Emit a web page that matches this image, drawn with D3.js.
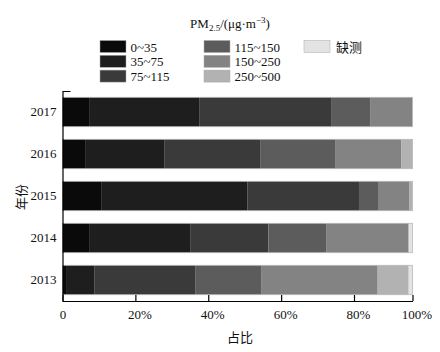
<!DOCTYPE html>
<html>
<head>
<meta charset="utf-8">
<script src="https://cdn.jsdelivr.net/npm/d3@7"></script>
<style>
  body { margin: 0; background: #fff; }
  text { font-family: "Liberation Serif", "Times New Roman", serif; fill: #111; }
  .cjk { font-family: "Noto Sans CJK SC", sans-serif; }
</style>
</head>
<body>
<div id="chart"></div>
<script>
// Years from top to bottom
var years = ["2017", "2016", "2015", "2014", "2013"];

// PM2.5 classes and their fills
var categories = ["0~35", "35~75", "75~115", "115~150", "150~250", "250~500", "缺测"];
var colors = ["#0a0a0a", "#1e1e1e", "#3a3a3a", "#5c5c5c", "#838383", "#b2b2b2", "#e3e3e3"];

// Share (%) of each class per year, same order as years
var s0_35 = [7.5, 6.4, 10.6, 7.5, 1.2];
var s35_75 = [30.0, 21.5, 40.1, 27.7, 7.5];
var s75_115 = [36.2, 26.5, 31.0, 21.3, 27.7];
var s115_150 = [11.8, 20.4, 6.5, 16.0, 18.1];
var s150_250 = [14.5, 21.3, 10.6, 26.2, 33.6];
var s250_500 = [0, 3.9, 1.2, 0, 10.6];
var sMissing = [0, 0, 0, 1.3, 1.3];

// Tick values of the x axis
var xTicks = [0, 20, 40, 60, 80, 100];

var width = 440, height = 352;
var series = [s0_35, s35_75, s75_115, s115_150, s150_250, s250_500, sMissing];

// rows for the stack layout
var rows = years.map(function (y, i) {
  var r = { year: y };
  categories.forEach(function (c, j) { r[c] = series[j][i]; });
  return r;
});

var svg = d3.select("#chart").append("svg")
  .attr("width", width)
  .attr("height", height);

// the printed axis is not evenly spaced after 80%, so follow it
var x = d3.scaleLinear().domain([0, 80, 100]).range([62.5, 354, 412.5]);
var y = d3.scaleBand().domain(years).range([91, 301])
  .paddingInner(0.3).paddingOuter(0.15);

var color = d3.scaleOrdinal().domain(categories).range(colors);

var stacked = d3.stack().keys(categories)(rows);

// bars
svg.append("g").selectAll("g")
  .data(stacked)
  .join("g")
  .attr("fill", function (d) { return color(d.key); })
  .selectAll("rect")
  .data(function (d) { return d; })
  .join("rect")
  .attr("x", function (d) { return x(d[0]); })
  .attr("y", function (d) { return y(d.data.year); })
  .attr("width", function (d) { return Math.max(0, x(d[1]) - x(d[0])); })
  .attr("height", y.bandwidth());

// thin light edge along top and bottom of each bar
svg.append("g").selectAll("rect")
  .data(rows)
  .join("rect")
  .attr("x", x(0))
  .attr("y", function (d) { return y(d.year); })
  .attr("width", x(100) - x(0))
  .attr("height", y.bandwidth())
  .attr("fill", "none")
  .attr("stroke", "#b8b8b8")
  .attr("stroke-width", 0.8);

// x axis
var xAxis = svg.append("g")
  .attr("transform", "translate(0,301)")
  .call(d3.axisBottom(x)
    .tickValues(xTicks)
    .tickSizeInner(-6)
    .tickSizeOuter(0)
    .tickPadding(9)
    .tickFormat(function (d) { return d === 0 ? "0" : d + "%"; }));
xAxis.selectAll("path, line").attr("stroke", "#000").attr("stroke-width", 1.2);
xAxis.selectAll("text")
  .style("font-family", '"Liberation Serif", serif')
  .style("font-size", "13px")
  .attr("fill", "#111")
  .attr("dx", function (d) { return d === 0 ? 0 : 4; });

// y axis
var yAxis = svg.append("g")
  .attr("transform", "translate(62.5,0)")
  .call(d3.axisLeft(y).tickSizeInner(0).tickSizeOuter(-8).tickPadding(6));
yAxis.selectAll("path").attr("stroke", "#000").attr("stroke-width", 1.2);
yAxis.selectAll("text")
  .style("font-family", '"Liberation Serif", serif')
  .style("font-size", "13px")
  .attr("fill", "#111");

// axis titles
svg.append("text")
  .attr("class", "cjk")
  .attr("x", 240).attr("y", 342)
  .attr("text-anchor", "middle")
  .style("font-size", "13px")
  .text("占比");

svg.append("text")
  .attr("class", "cjk")
  .attr("transform", "translate(26,197) rotate(-90)")
  .attr("text-anchor", "middle")
  .style("font-size", "13px")
  .text("年份");

// legend title
var title = svg.append("text")
  .attr("x", 230).attr("y", 28)
  .attr("text-anchor", "middle")
  .style("font-size", "13px");
title.append("tspan").text("PM");
title.append("tspan").attr("dy", 3).style("font-size", "9px").text("2.5");
title.append("tspan").attr("dy", -3).text("/(μg·m");
title.append("tspan").attr("dy", -5).style("font-size", "9px").text("−3");
title.append("tspan").attr("dy", 5).text(")");

// legend entries, three columns
var legendCols = [100, 204, 304];
var legend = svg.append("g").selectAll("g")
  .data(categories)
  .join("g")
  .attr("transform", function (d, i) {
    return "translate(" + legendCols[Math.floor(i / 3)] + "," + (40.5 + (i % 3) * 14.8) + ")";
  });

legend.append("rect")
  .attr("width", 26)
  .attr("height", 12)
  .attr("fill", function (d) { return color(d); })
  .attr("stroke", "#aaa")
  .attr("stroke-width", 0.5);

legend.append("text")
  .attr("x", function (d) { return d === "缺测" ? 32 : 30.5; })
  .attr("y", 11)
  .attr("class", function (d) { return d === "缺测" ? "cjk" : null; })
  .style("font-size", "13px")
  .text(function (d) { return d; });
</script>
</body>
</html>
